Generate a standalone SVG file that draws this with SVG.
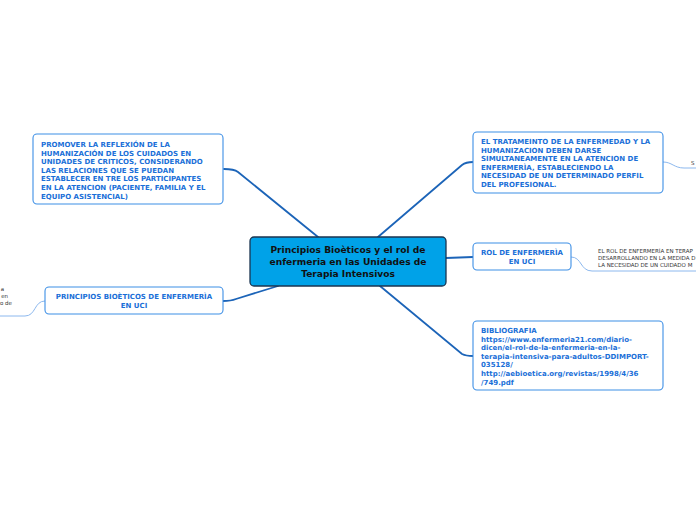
<svg xmlns="http://www.w3.org/2000/svg" width="696" height="520" viewBox="0 0 696 520">
<style>
.bg{fill:#ffffff}
.main{fill:#00a2e8;stroke:#1b3550;stroke-width:1.3}
.node{fill:#ffffff;stroke:#3d8fe6;stroke-width:1.1}
.mt{font-family:"DejaVu Sans",Verdana,sans-serif;font-weight:bold;font-size:9.1px;fill:#111111;text-anchor:middle}
.nt{font-family:"DejaVu Sans",Verdana,sans-serif;font-weight:bold;font-size:7px;fill:#1a6fd8}
.ntc{text-anchor:middle}
.st{font-family:"DejaVu Sans",Verdana,sans-serif;font-size:5.5px;fill:#333333}
.br{fill:none;stroke:#1c64b8;stroke-width:1.8;stroke-linecap:round}
.sb{fill:none;stroke:#8cb8ee;stroke-width:1}
</style>
<rect class="bg" x="0" y="0" width="696" height="520"/>
<g id="connectors">
<path class="br" d="M318,237 L238,172 Q234,169 224,169"/>
<path class="br" d="M378,237 L462,165 Q466,162 473,162"/>
<path class="br" d="M446,258 L473,257"/>
<path class="br" d="M278,286 L236,299 Q231,301 223,301"/>
<path class="br" d="M380,286 L462,354 Q466,356 473,356"/>
<path class="sb" d="M663,162 C672,162 674,168 684,168 L696,168"/>
<path class="sb" d="M571,257 C582,257 580,271 592,271 L696,271"/>
<path class="sb" d="M45,301 C34,301 36,316 25,316 L0,316"/>
</g>
<g id="central">
<rect class="main" x="250" y="237" width="196" height="49" rx="4"/>
<text class="mt" x="348" y="253">Principios Bioèticos y el rol de</text>
<text class="mt" x="348" y="265">enfermeria en las Unidades de</text>
<text class="mt" x="348" y="277">Terapia Intensivos</text>
</g>
<g id="promover">
<rect class="node" x="33" y="134" width="190" height="70" rx="4"/>
<text class="nt" x="41" y="147">PROMOVER LA REFLEXIÓN DE LA</text>
<text class="nt" x="41" y="155.6">HUMANIZACIÓN DE LOS CUIDADOS EN</text>
<text class="nt" x="41" y="164.2">UNIDADES DE CRITICOS, CONSIDERANDO</text>
<text class="nt" x="41" y="172.8">LAS RELACIONES QUE SE PUEDAN</text>
<text class="nt" x="41" y="181.4">ESTABLECER EN TRE LOS PARTICIPANTES</text>
<text class="nt" x="41" y="190">EN LA ATENCION (PACIENTE, FAMILIA Y EL</text>
<text class="nt" x="41" y="198.6">EQUIPO ASISTENCIAL)</text>
</g>
<g id="tratamiento">
<rect class="node" x="473" y="132" width="190" height="61" rx="4"/>
<text class="nt" x="481" y="144">EL TRATAMEINTO DE LA ENFERMEDAD Y LA</text>
<text class="nt" x="481" y="152.6">HUMANIZACION DEBEN DARSE</text>
<text class="nt" x="481" y="161.2">SIMULTANEAMENTE EN LA ATENCION DE</text>
<text class="nt" x="481" y="169.8">ENFERMERÌA, ESTABLECIENDO LA</text>
<text class="nt" x="481" y="178.4">NECESIDAD DE UN DETERMINADO PERFIL</text>
<text class="nt" x="481" y="187">DEL PROFESIONAL.</text>
</g>
<g id="tratamiento-sub">
<text class="st" x="691" y="165">S</text>
</g>
<g id="rol">
<rect class="node" x="473" y="243" width="98" height="27" rx="4"/>
<text class="nt ntc" x="522" y="255">ROL DE ENFERMERÌA</text>
<text class="nt ntc" x="522" y="263.6">EN UCI</text>
</g>
<g id="rol-sub">
<text class="st" x="598" y="253">EL ROL DE ENFERMERÍA EN TERAP</text>
<text class="st" x="598" y="260">DESARROLLANDO EN LA MEDIDA D</text>
<text class="st" x="598" y="267">LA NECESIDAD DE UN CUIDADO M</text>
</g>
<g id="principios">
<rect class="node" x="45" y="287" width="178" height="27" rx="4"/>
<text class="nt ntc" x="134" y="299">PRINCIPIOS BIOÈTICOS DE ENFERMERÌA</text>
<text class="nt ntc" x="134" y="307.6">EN UCI</text>
</g>
<g id="principios-sub">
<text class="st" x="4" y="291" text-anchor="end">a</text>
<text class="st" x="8" y="298" text-anchor="end">en</text>
<text class="st" x="12" y="305" text-anchor="end">o de</text>
</g>
<g id="bibliografia">
<rect class="node" x="473" y="321" width="190" height="69" rx="4"/>
<text class="nt" x="481" y="333">BIBLIOGRAFIA</text>
<text class="nt" x="481" y="341.6">https://www.enfermeria21.com/diario-</text>
<text class="nt" x="481" y="350.2">dicen/el-rol-de-la-enfermeria-en-la-</text>
<text class="nt" x="481" y="358.8">terapia-intensiva-para-adultos-DDIMPORT-</text>
<text class="nt" x="481" y="367.4">035128/</text>
<text class="nt" x="481" y="376">http://aebioetica.org/revistas/1998/4/36</text>
<text class="nt" x="481" y="384.6">/749.pdf</text>
</g>
</svg>
